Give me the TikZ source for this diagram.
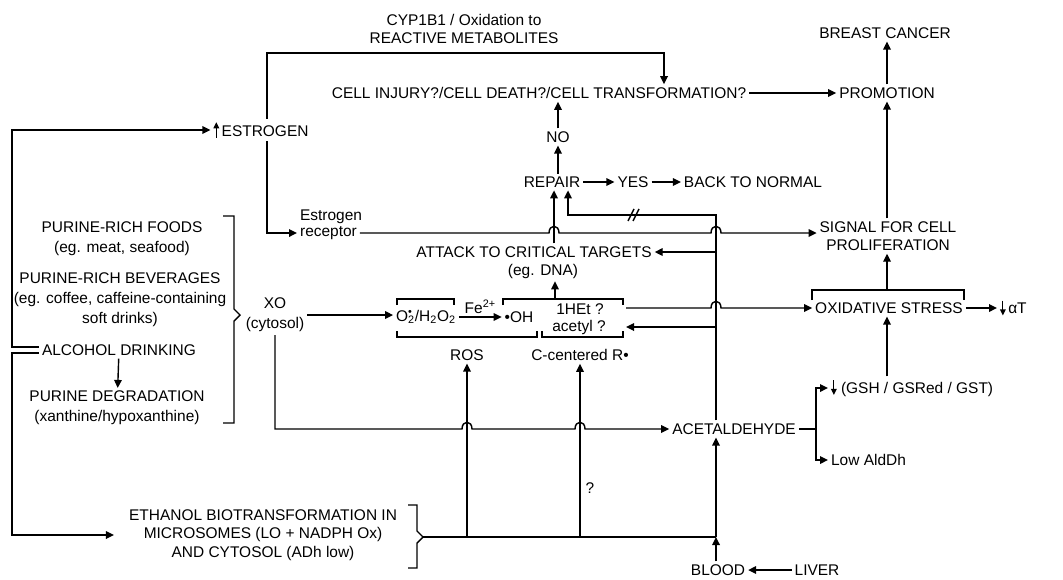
\documentclass[tikz,border=0pt]{standalone}
\usepackage{fontspec}
\setmainfont{Liberation Sans}
\usetikzlibrary{positioning,arrows.meta}
\tikzset{
  lbl/.style={inner sep=2pt, align=center, font=\fontsize{11}{13}\selectfont},
  lblw/.style={lbl, font=\fontsize{11}{14.2}\selectfont},
  flow/.style={-{Triangle[length=2mm,width=1.9mm]}, line width=1pt},
  wire/.style={line width=1pt}
}
\newcommand{\uparw}{\tikz[baseline=0pt]\draw[line width=0.8pt,-{Triangle[length=1.5mm,width=1.4mm]}] (0pt,-1pt) -- (0pt,3.5mm);}
\newcommand{\dnarw}{\tikz[baseline=0pt]\draw[line width=0.8pt,-{Triangle[length=1.5mm,width=1.4mm]}] (0pt,3.3mm) -- (0pt,-1.2pt);}
\begin{document}
\begin{tikzpicture}[x=0.025cm, y=-0.025cm]
\useasboundingbox (0,0) rectangle (1063,579);
\node[lbl] (cyp) at (464,29) {CYP1B1 / Oxidation to\\REACTIVE METABOLITES};
\node[lbl] (cell) at (539,93) {CELL INJURY?/CELL DEATH?/CELL TRANSFORMATION?};
\node[lbl] (promo) at (887,93) {PROMOTION};
\node[lbl] (cancer) at (885,33) {BREAST CANCER};
\node[lbl] (estro) at (261,130) {\uparw\,ESTROGEN};
\node[lbl] (no) at (558,137) {NO};
\node[lbl] (repair) at (552,182) {REPAIR};
\node[lbl] (yes) at (633,182) {YES};
\node[lbl] (normal) at (753,182) {BACK TO NORMAL};
\node[lbl, anchor=west] (recA) at (297,217) {Estrogen};
\node[lbl, anchor=west] (rec) at (297,233) {receptor};
\node[lbl] (attack) at (534,252) {ATTACK TO CRITICAL TARGETS};
\node[lbl] (dna) at (543,271) {(eg. DNA)};
\node[lbl] (signal) at (888,236) {SIGNAL FOR CELL\\PROLIFERATION};
\node[lblw] (food) at (122,239) {PURINE-RICH FOODS\\(eg. meat, seafood)};
\node[lblw] (bev) at (120,300) {PURINE-RICH BEVERAGES\\(eg. coffee, caffeine-containing\\soft drinks)};
\node[lbl] (alc) at (119,350) {ALCOHOL DRINKING};
\node[lblw] (deg) at (117,408) {PURINE DEGRADATION\\(xanthine/hypoxanthine)};
\node[lblw] (xo) at (275,315) {XO\\(cytosol)};
\node[lbl] (o2) at (426,317) {O\rlap{\textsuperscript{•}}\textsubscript{2}/H\textsubscript{2}O\textsubscript{2}};
\node[lbl] (oh) at (519,317) {•OH};
\node[lbl] (het) at (580,309) {1HEt ?};
\node[lbl] (acyl) at (579,327) {acetyl ?};
\node[lbl] (ros) at (467,355) {ROS};
\node[lbl] (ccr) at (580,355) {C-centered R•};
\node[lbl] (oxs) at (889,308) {OXIDATIVE STRESS};
\node[lbl, anchor=west] (alpha) at (997,308) {\dnarw\,αT};
\node[lbl, anchor=west] (gsh) at (828,388) {\dnarw\ (GSH / GSRed / GST)};
\node[lbl] (acet) at (734,429) {ACETALDEHYDE};
\node[lbl, anchor=west] (aldh) at (828,460) {Low AldDh};
\node[lbl] (eth) at (263,535) {ETHANOL BIOTRANSFORMATION IN\\MICROSOMES (LO + NADPH Ox)\\AND CYTOSOL (ADh low)};
\node[lbl] (blood) at (718,570) {BLOOD};
\node[lbl] (liver) at (817,570) {LIVER};
\node[lbl] (qm) at (590,488) {?};
\coordinate (ex) at (267,130);
\coordinate (cy) at (664,53);
\coordinate (vt) at (716,215);
\coordinate (rb) at (568,215);
\coordinate (ra) at (554,240);
\coordinate (ab) at (816,429);
\coordinate (vb) at (716,537);
\coordinate (hr) at (626,308);
\coordinate (ar) at (626,327);
\coordinate (bt) at (555,299);
\coordinate (ot) at (887,290);
\draw[flow] (ex |- estro.north) |- (cy) -- (cy |- cell.north);
\draw[flow] (ex |- estro.south) |- (rec.west);
\draw[flow] (rec.east) -- (549,233) .. controls +(0,-9) and +(0,-9) .. (559,233) -- (711,233) .. controls +(0,-9) and +(0,-9) .. (721,233) -- (signal.west |- rec.east);
\draw[flow] (attack.north -| ra) -- (ra |- repair.south);
\draw[flow] (vt |- acet.north) -- (vt) -- (rb) -- (rb |- repair.south);
\draw[wire] (628,221) -- (634,209) (633,221) -- (639,209);
\draw[flow] (vt |- attack.east) -- (attack.east);
\draw[flow] (vt |- ar) -- (ar);
\draw[flow] (hr) -- (711,308) .. controls +(0,-9) and +(0,-9) .. (721,308) -- (oxs.west);
\draw[flow] (repair.north -| no) -- (no.south);
\draw[flow] (no.north) -- (no |- cell.south);
\draw[flow] (repair) -- (yes);
\draw[flow] (yes) -- (normal);
\draw[flow] (cell) -- (promo);
\draw[flow] (promo.north) -- (promo.north |- cancer.south);
\draw[flow] (signal.north -| ot) -- (ot |- promo.south);
\draw[wire] (812,300) -- (812,290) -- (964,290) -- (964,300);
\draw[flow] (ot) -- (ot |- signal.south);
\draw[flow] (oxs.east) -- (alpha.west);
\draw[flow] (gsh.north -| ot) -- (ot |- oxs.south);
\draw[wire] (acet.east) -- (ab);
\draw[flow] (ab) |- (gsh.west);
\draw[flow] (ab) |- (aldh.west);
\draw[flow] (xo.east) -- (xo.east -| o2.west);
\draw[flow] (o2) -- node[lbl, above]{Fe\textsuperscript{2+}} (oh);
\draw[wire] (397,305) -- (397,299) -- (454,299) -- (454,305);
\draw[wire] (503,305) -- (503,299) -- (623,299) -- (623,305);
\draw[wire] (397,331) -- (397,337) -- (537,337) -- (537,331);
\draw[wire] (542,331) -- (542,337) -- (623,337) -- (623,331);
\draw[flow] (bt) -- (bt |- dna.south);
\draw[wire] (223,216) -- (234,216) -- (234,309) -- (240,315) -- (234,321) -- (234,423) -- (223,423);
\draw[flow] ([yshift=0.75mm]alc.west) -| (12,130) -- (estro.west);
\draw[flow, shorten >=3mm] ([yshift=-0.75mm]alc.west) -| (12,535) -- (eth.west);
\draw[flow] (alc) -- (deg);
\draw[wire] (408,505) -- (417,505) -- (417,531) -- (423,537) -- (417,543) -- (417,568) -- (408,568);
\draw[wire] (423,537) -- (vb);
\draw[flow] (ros |- vb) -- (ros.south);
\draw[flow] (ccr |- vb) -- (ccr.south);
\draw[flow] (xo.south) -- (xo.south |- acet) -- (462,429) .. controls +(0,-9) and +(0,-9) .. (472,429) -- (575,429) .. controls +(0,-9) and +(0,-9) .. (585,429) -- (acet.west);
\draw[flow] (vb |- blood.north) -- (vb);
\draw[flow] (vb) -- (vb |- acet.south);
\draw[flow] (liver) -- (blood);
\end{tikzpicture}
\end{document}
